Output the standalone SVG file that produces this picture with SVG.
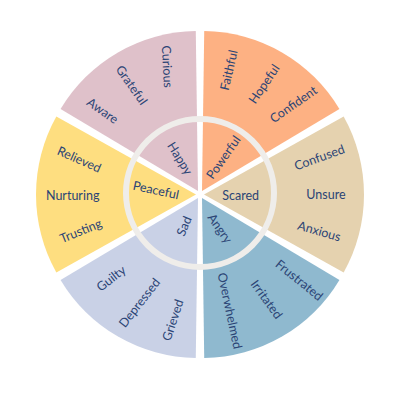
<svg xmlns="http://www.w3.org/2000/svg" width="400" height="400" viewBox="0 0 400 400">
<style>
text{font-family:Lato,"Open Sans","Liberation Sans",sans-serif;font-size:12.5px;fill:#2B4475;text-anchor:middle;dominant-baseline:central}
.ring{fill:none;stroke:#EFEDEA;stroke-width:6}
</style>
<rect width="400" height="400" fill="#FFFFFF"/>
<g id="wedges">
<g id="powerful">
<path d="M202,191.04 L204.23,31.06 A160,160 0 0 1 339.44,109.12 Z" fill="#FDB183"/>
<text transform="translate(223.3,157.3) rotate(-55)">Powerful</text>
<text transform="translate(228.7,70) rotate(-77)">Faithful</text>
<text transform="translate(264,84) rotate(-56)">Hopeful</text>
<text transform="translate(293.3,104.3) rotate(-35)">Confident</text>
</g>
<g id="scared">
<path d="M204,194.5 L343.66,116.44 A160,160 0 0 1 343.66,272.56 Z" fill="#E5D2AF"/>
<text x="240.7" y="195">Scared</text>
<text transform="translate(319.3,157.3) rotate(-20)">Confused</text>
<text x="326" y="194">Unsure</text>
<text transform="translate(319.3,231) rotate(16)">Anxious</text>
</g>
<g id="angry">
<path d="M202,197.96 L339.44,279.88 A160,160 0 0 1 204.23,357.94 Z" fill="#8FB9CF"/>
<text transform="translate(220,228.3) rotate(55)">Angry</text>
<text transform="translate(299.3,280) rotate(39)">Frustrated</text>
<text transform="translate(266.7,299.3) rotate(54)">Irritated</text>
<text transform="translate(230,310.7) rotate(78)">Overwhelmed</text>
</g>
<g id="sad">
<path d="M198,197.96 L195.77,357.94 A160,160 0 0 1 60.56,279.88 Z" fill="#C9D1E6"/>
<text transform="translate(184,226) rotate(-67)">Sad</text>
<text transform="translate(111,278.3) rotate(-38)">Guilty</text>
<text transform="translate(139.3,302.7) rotate(-52)">Depressed</text>
<text transform="translate(172.7,320) rotate(-72)">Grieved</text>
</g>
<g id="peaceful">
<path d="M196,194.5 L56.34,272.56 A160,160 0 0 1 56.34,116.44 Z" fill="#FEDE80"/>
<text transform="translate(156,190) rotate(12)">Peaceful</text>
<text transform="translate(79.3,159.3) rotate(24)">Relieved</text>
<text x="72.7" y="195">Nurturing</text>
<text transform="translate(80.7,230.7) rotate(-22)">Trusting</text>
</g>
<g id="happy">
<path d="M198,191.04 L60.56,109.12 A160,160 0 0 1 195.77,31.06 Z" fill="#DFC1CA"/>
<text transform="translate(180,158.3) rotate(58)">Happy</text>
<text transform="translate(167.3,66.7) rotate(87)">Curious</text>
<text transform="translate(131.7,85) rotate(55)">Grateful</text>
<text transform="translate(102.7,110.7) rotate(35)">Aware</text>
</g>
</g>
<g id="connectors">
<circle class="ring" cx="200" cy="193" r="74"/>
</g>
</svg>
